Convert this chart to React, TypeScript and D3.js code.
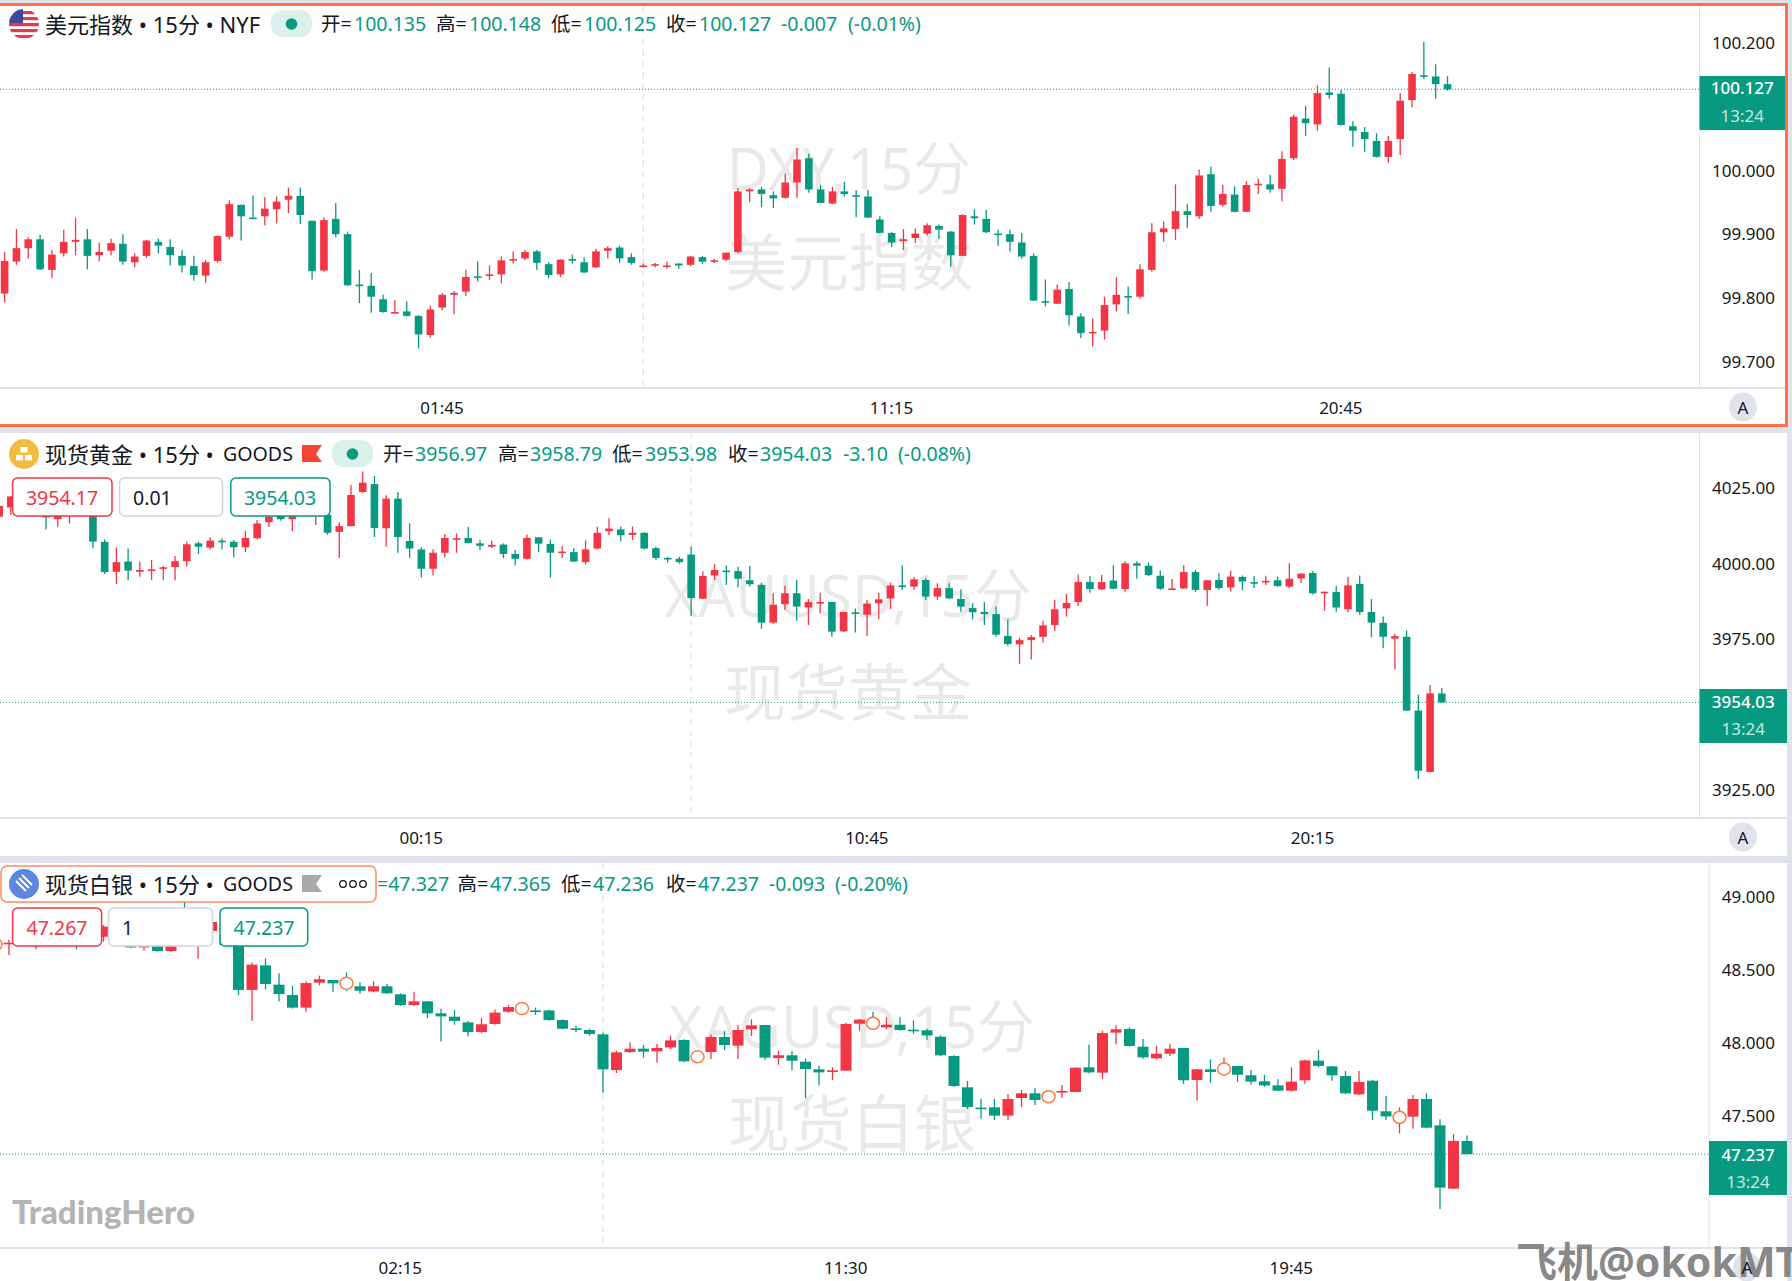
import React from "react";
import * as d3 from "d3";

type Row = number[]; // open, high, low, close

const dxyOhlc: Row[] = [
[99.807,99.872,99.793,99.858],[99.857,99.908,99.852,99.878],[99.878,99.895,99.862,99.892],[99.892,99.899,99.844,99.845],[99.844,99.875,99.831,99.868],
[99.870,99.907,99.865,99.888],[99.888,99.926,99.867,99.891],[99.892,99.908,99.845,99.866],[99.867,99.887,99.857,99.872],[99.874,99.893,99.867,99.886],
[99.885,99.900,99.852,99.857],[99.856,99.870,99.848,99.865],[99.866,99.891,99.863,99.890],[99.888,99.893,99.870,99.882],[99.880,99.892,99.851,99.867],
[99.866,99.875,99.840,99.851],[99.850,99.866,99.827,99.836],[99.835,99.859,99.824,99.856],[99.858,99.898,99.855,99.897],[99.896,99.953,99.892,99.947],
[99.946,99.946,99.890,99.928],[99.926,99.961,99.925,99.925],[99.928,99.958,99.914,99.940],[99.939,99.959,99.917,99.951],[99.954,99.973,99.933,99.960],
[99.960,99.973,99.916,99.930],[99.921,99.921,99.829,99.842],[99.843,99.926,99.841,99.922],[99.924,99.949,99.895,99.900],[99.900,99.904,99.819,99.820],
[99.821,99.844,99.792,99.819],[99.819,99.839,99.777,99.802],[99.798,99.805,99.777,99.778],[99.777,99.797,99.776,99.778],[99.779,99.795,99.771,99.772],
[99.772,99.773,99.721,99.743],[99.742,99.788,99.738,99.782],[99.785,99.808,99.781,99.805],[99.805,99.811,99.775,99.808],[99.810,99.844,99.803,99.833],
[99.834,99.857,99.826,99.832],[99.835,99.851,99.828,99.837],[99.837,99.865,99.823,99.859],[99.859,99.873,99.854,99.861],[99.862,99.875,99.859,99.872],
[99.873,99.875,99.844,99.855],[99.853,99.856,99.831,99.836],[99.837,99.861,99.833,99.860],[99.861,99.868,99.854,99.859],[99.856,99.864,99.839,99.840],
[99.848,99.877,99.847,99.873],[99.874,99.881,99.862,99.878],[99.879,99.882,99.855,99.862],[99.864,99.870,99.852,99.855],[99.849,99.854,99.848,99.851],
[99.852,99.855,99.848,99.853],[99.849,99.857,99.846,99.851],[99.854,99.854,99.846,99.851],[99.852,99.866,99.850,99.865],[99.864,99.866,99.853,99.857],
[99.857,99.861,99.855,99.859],[99.860,99.871,99.858,99.871],[99.872,99.972,99.870,99.967],[99.967,99.972,99.950,99.970],[99.970,99.974,99.942,99.963],
[99.961,99.967,99.941,99.956],[99.957,99.995,99.956,99.981],[99.981,100.035,99.957,100.017],[100.019,100.026,99.965,99.970],[99.970,99.977,99.949,99.949],
[99.948,99.974,99.947,99.967],[99.967,99.982,99.959,99.963],[99.961,99.969,99.927,99.959],[99.959,99.969,99.925,99.926],[99.923,99.928,99.901,99.902],
[99.902,99.903,99.880,99.887],[99.889,99.908,99.875,99.892],[99.894,99.909,99.886,99.901],[99.901,99.917,99.898,99.914],[99.913,99.915,99.893,99.907],
[99.904,99.905,99.849,99.867],[99.866,99.931,99.866,99.930],[99.928,99.939,99.915,99.925],[99.924,99.938,99.902,99.903],[99.901,99.907,99.882,99.899],
[99.900,99.907,99.873,99.888],[99.887,99.902,99.862,99.865],[99.866,99.870,99.795,99.796],[99.795,99.829,99.787,99.793],[99.791,99.821,99.791,99.813],
[99.814,99.825,99.757,99.773],[99.771,99.776,99.737,99.745],[99.746,99.768,99.724,99.747],[99.749,99.802,99.735,99.789],[99.790,99.832,99.779,99.805],
[99.803,99.818,99.775,99.802],[99.802,99.853,99.799,99.845],[99.844,99.917,99.841,99.903],[99.903,99.920,99.888,99.909],[99.908,99.978,99.891,99.936],
[99.936,99.947,99.910,99.930],[99.928,100.001,99.924,99.992],[99.994,100.006,99.935,99.944],[99.946,99.977,99.943,99.963],[99.962,99.975,99.934,99.935],
[99.935,99.983,99.935,99.977],[99.977,99.987,99.963,99.979],[99.978,99.993,99.965,99.970],[99.971,100.030,99.951,100.018],[100.019,100.087,100.016,100.084],
[100.081,100.101,100.054,100.074],[100.072,100.133,100.062,100.121],[100.122,100.161,100.112,100.118],[100.120,100.126,100.070,100.071],[100.069,100.077,100.037,100.062],
[100.060,100.068,100.029,100.049],[100.046,100.058,100.020,100.021],[100.021,100.054,100.012,100.046],[100.049,100.121,100.024,100.109],[100.110,100.154,100.099,100.151],
[100.149,100.201,100.143,100.147],[100.147,100.166,100.112,100.135],[100.135,100.148,100.125,100.127],
];

const xauOhlc: Row[] = [
[4015.4,4019.8,4013.5,4019.0],[4018.5,4022.3,4016.0,4022.1],[4020.4,4021.5,4016.0,4017.1],[4017.1,4020.4,4015.9,4019.3],[4018.2,4020.9,4011.2,4015.2],
[4014.6,4019.8,4012.1,4017.1],[4015.7,4019.3,4013.2,4017.6],[4018.2,4019.3,4015.9,4016.5],[4017.6,4019.3,4005.0,4007.2],[4007.1,4007.9,3996.5,3997.1],
[3997.2,4005.3,3993.2,4000.4],[4000.6,4004.9,3994.4,3997.6],[3997.2,4000.6,3995.6,3997.8],[3997.6,4001.1,3994.5,3998.0],[3998.2,3999.1,3994.5,3998.7],
[3998.8,4002.4,3994.4,4000.7],[4000.7,4007.1,3998.9,4006.3],[4006.6,4007.2,4003.1,4005.5],[4005.2,4008.6,4004.6,4007.5],[4007.5,4008.3,4004.6,4007.3],
[4007.1,4007.7,4002.0,4005.3],[4005.3,4010.7,4003.7,4008.4],[4008.3,4014.3,4007.9,4013.2],[4013.6,4017.6,4012.0,4015.4],[4016.0,4017.6,4014.1,4014.6],
[4014.6,4017.6,4010.7,4016.5],[4017.1,4018.2,4015.7,4016.0],[4015.7,4017.6,4012.7,4016.5],[4016.1,4017.6,4009.4,4010.1],[4010.4,4013.6,4001.8,4012.3],
[4012.3,4025.9,4012.3,4022.6],[4023.6,4030.4,4023.3,4026.7],[4026.2,4028.9,4008.7,4011.7],[4011.6,4022.5,4005.5,4021.4],[4021.4,4023.6,4003.5,4008.7],
[4007.4,4013.3,4001.8,4004.9],[4004.6,4005.3,3995.3,3998.2],[3998.2,4004.6,3996.0,4003.5],[4003.5,4009.7,4002.0,4008.4],[4007.9,4009.9,4003.5,4008.3],
[4008.4,4012.1,4006.6,4006.7],[4006.6,4007.6,4004.4,4005.8],[4005.5,4007.5,4005.1,4006.1],[4006.2,4006.6,4001.7,4003.1],[4003.1,4004.4,3999.3,4001.5],
[4001.5,4009.5,4001.3,4008.4],[4008.6,4008.6,4003.7,4006.5],[4006.4,4007.9,3995.3,4003.5],[4003.4,4005.7,4001.8,4003.9],[4003.7,4005.1,4000.4,4000.6],
[4000.4,4007.6,3999.6,4004.6],[4004.9,4012.1,4004.6,4010.1],[4010.6,4014.9,4009.4,4011.5],[4011.2,4012.1,4007.2,4009.3],[4009.4,4012.2,4007.7,4010.1],
[4010.1,4010.3,4004.6,4004.9],[4005.0,4005.6,4001.1,4001.8],[4001.8,4002.2,4000.3,4001.4],[4001.5,4002.2,3999.9,4000.4],[4002.9,4005.6,3982.6,3988.5],
[3988.3,3997.4,3988.2,3995.8],[3996.0,3999.8,3994.5,3997.8],[3997.6,3999.3,3992.8,3997.2],[3997.4,3998.9,3992.1,3994.9],[3994.4,3999.1,3992.3,3993.1],
[3992.9,3993.6,3978.4,3980.4],[3980.4,3990.1,3979.9,3986.3],[3986.5,3992.7,3984.6,3990.1],[3990.1,3994.5,3981.0,3985.7],[3985.4,3988.2,3979.6,3987.2],
[3986.9,3990.3,3983.5,3987.2],[3987.2,3987.3,3975.7,3977.4],[3977.5,3984.0,3977.3,3983.9],[3983.8,3985.1,3977.1,3983.4],[3983.0,3987.9,3976.0,3986.7],
[3986.8,3990.3,3981.5,3988.1],[3988.4,3993.6,3984.9,3992.7],[3992.7,3999.3,3991.2,3992.3],[3992.3,3995.5,3991.2,3994.7],[3994.5,3995.1,3987.9,3989.0],
[3989.0,3993.4,3987.9,3991.8],[3991.8,3993.4,3988.1,3988.4],[3988.2,3991.4,3984.0,3985.7],[3985.2,3986.8,3981.5,3983.8],[3983.9,3987.2,3979.6,3983.2],
[3983.2,3985.7,3975.7,3976.4],[3976.0,3981.5,3972.7,3973.3],[3973.2,3975.4,3966.7,3974.6],[3974.6,3976.3,3968.2,3975.6],[3975.7,3981.0,3973.8,3979.5],
[3979.6,3987.9,3977.6,3984.8],[3985.1,3989.9,3982.4,3986.9],[3987.2,3996.3,3985.9,3993.8],[3993.8,3995.8,3990.3,3991.5],[3991.4,3996.1,3991.2,3993.8],
[3994.3,3999.4,3991.4,3991.6],[3991.5,4000.7,3990.6,4000.0],[4000.0,4000.6,3995.0,3999.2],[3999.2,4000.3,3995.8,3996.1],[3995.9,3997.6,3991.2,3991.6],
[3991.2,3994.8,3991.2,3991.7],[3991.7,3999.4,3991.5,3997.1],[3997.1,3997.8,3990.5,3991.2],[3991.2,3994.5,3986.0,3994.4],[3994.5,3996.7,3991.3,3991.8],
[3992.0,3997.6,3990.7,3995.6],[3995.5,3996.0,3991.2,3994.0],[3993.8,3995.8,3991.8,3993.5],[3993.8,3995.9,3992.8,3994.2],[3994.4,3995.6,3992.2,3992.5],
[3992.3,4000.0,3991.8,3994.9],[3995.0,3996.7,3993.5,3996.6],[3996.8,3997.5,3989.7,3990.1],[3990.3,3990.7,3984.3,3990.6],[3990.5,3992.5,3984.0,3985.4],
[3984.8,3995.5,3983.7,3992.7],[3993.2,3996.0,3983.0,3983.9],[3983.9,3988.2,3975.5,3980.4],[3980.3,3982.4,3971.9,3975.7],[3975.1,3976.6,3964.9,3975.9],
[3975.7,3977.8,3951.3,3951.3],[3951.3,3956.5,3928.7,3931.4],[3931.0,3959.8,3930.8,3957.0],[3956.97,3958.79,3953.98,3954.03],
];

const xagOhlc: Row[] = [
[48.661,48.702,48.633,48.679],[48.674,48.702,48.599,48.683],[48.702,48.720,48.661,48.667],[48.706,48.736,48.638,48.661],[48.679,48.724,48.665,48.702],
[48.706,48.724,48.663,48.674],[48.713,48.733,48.638,48.661],[48.674,48.736,48.663,48.713],[48.724,48.804,48.690,48.793],[48.759,48.781,48.667,48.702],
[48.702,48.736,48.647,48.651],[48.651,48.713,48.629,48.679],[48.690,48.724,48.622,48.626],[48.626,48.713,48.622,48.679],[48.816,48.964,48.674,48.702],
[48.667,48.770,48.574,48.736],[48.763,48.838,48.736,48.825],[48.736,48.747,48.661,48.667],[48.702,48.804,48.325,48.360],[48.360,48.547,48.150,48.533],
[48.528,48.576,48.364,48.401],[48.396,48.474,48.282,48.332],[48.325,48.387,48.232,48.239],[48.239,48.419,48.211,48.407],[48.410,48.458,48.391,48.433],
[48.428,48.428,48.348,48.405],[48.410,48.480,48.355,48.401],[48.385,48.412,48.334,48.355],[48.350,48.419,48.344,48.385],[48.385,48.401,48.332,48.337],
[48.330,48.337,48.250,48.257],[48.257,48.348,48.250,48.282],[48.282,48.284,48.168,48.200],[48.200,48.232,48.008,48.179],[48.177,48.225,48.122,48.148],
[48.138,48.148,48.043,48.072],[48.072,48.170,48.063,48.125],[48.127,48.227,48.122,48.205],[48.211,48.257,48.205,48.243],[48.230,48.268,48.195,48.236],
[48.220,48.239,48.189,48.216],[48.220,48.225,48.150,48.154],[48.154,48.159,48.091,48.095],[48.097,48.113,48.072,48.088],[48.086,48.095,48.047,48.059],
[48.056,48.068,47.657,47.817],[47.812,47.945,47.792,47.933],[47.935,48.002,47.931,47.958],[47.958,47.983,47.897,47.938],[47.940,47.990,47.863,47.963],
[47.967,48.047,47.956,48.015],[48.018,48.022,47.865,47.872],[47.899,47.945,47.863,47.908],[47.935,48.056,47.888,48.038],[48.038,48.077,47.949,47.983],
[47.979,48.120,47.888,48.086],[48.091,48.159,48.045,48.118],[48.120,48.120,47.883,47.897],[47.894,47.945,47.849,47.913],[47.913,47.940,47.812,47.876],
[47.869,47.890,47.619,47.819],[47.817,47.844,47.707,47.796],[47.803,47.831,47.744,47.810],[47.808,48.136,47.806,48.127],[48.129,48.161,48.081,48.157],
[48.136,48.211,48.093,48.127],[48.104,48.173,48.091,48.122],[48.122,48.173,48.081,48.086],[48.088,48.152,48.061,48.079],[48.084,48.095,48.020,48.049],
[48.040,48.049,47.908,47.913],[47.908,47.913,47.696,47.703],[47.694,47.737,47.546,47.559],[47.555,47.616,47.479,47.548],[47.557,47.614,47.470,47.500],
[47.500,47.648,47.470,47.614],[47.621,47.676,47.559,47.653],[47.653,47.687,47.573,47.607],[47.625,47.664,47.589,47.635],[47.660,47.710,47.623,47.669],
[47.662,47.831,47.662,47.828],[47.831,47.986,47.790,47.796],[47.794,48.081,47.751,48.065],[48.068,48.118,47.988,48.091],[48.093,48.104,47.972,47.977],
[47.972,48.024,47.890,47.899],[47.892,47.977,47.883,47.924],[47.924,47.992,47.908,47.958],[47.963,47.963,47.717,47.742],[47.744,47.821,47.603,47.817],
[47.817,47.885,47.726,47.799],[47.815,47.897,47.778,47.824],[47.840,47.842,47.730,47.780],[47.776,47.812,47.712,47.733],[47.735,47.780,47.698,47.707],
[47.707,47.749,47.669,47.671],[47.671,47.831,47.664,47.733],[47.742,47.885,47.719,47.878],[47.876,47.949,47.833,47.840],[47.837,47.840,47.739,47.776],
[47.771,47.806,47.648,47.653],[47.646,47.806,47.641,47.730],[47.739,47.744,47.470,47.534],[47.530,47.635,47.470,47.495],[47.484,47.557,47.379,47.493],
[47.493,47.641,47.411,47.614],[47.614,47.653,47.413,47.418],[47.434,47.475,46.862,47.008],[47.001,47.375,46.998,47.327],[47.327,47.365,47.236,47.237],
];

const xagEventIdx = [0, 26, 39, 52, 65, 78, 91, 104];

const dxyPriceTicks = [100.2, 100.0, 99.9, 99.8, 99.7];
const xauPriceTicks = [4025, 4000, 3975, 3925];
const xagPriceTicks = [49, 48.5, 48, 47.5];

const dxyTimeTicks: [number, string][] = [[37, "01:45"], [75, "11:15"], [113, "20:45"]];
const xauTimeTicks: [number, string][] = [[36, "00:15"], [74, "10:45"], [112, "20:15"]];
const xagTimeTicks: [number, string][] = [[30, "02:15"], [63, "11:30"], [96, "19:45"]];

const UP = "#f23645";
const DOWN = "#089981";
const BAND = "#e0e3eb";
const ORANGE = "#ff7043";
const FONT = "'Noto Sans','Noto Sans CJK SC',sans-serif";

type PaneCfg = {
  rows: Row[];
  fmt: (v: number) => string;
  priceTicks: number[];
  timeTicks: [number, string][];
  xFirst: number;
  xLast: number;
  yA: [number, number];
  yB: [number, number];
  axisX: number;
  axisY: number;
  bodyW: number;
  dashIdx: number;
  last: number;
  tag: { x2: number; top: number; bottom: number; priceY: number; timeY: number };
  wm: { x: number; y1: number; y2: number; t1: string; t2: string };
  btn: { x: number; y: number };
  timeY: number;
  top: number;
  events?: number[];
};

function Pane({ c }: { c: PaneCfg }) {
  const x = d3.scaleLinear().domain([0, c.rows.length - 1]).range([c.xFirst, c.xLast]);
  const y = d3.scaleLinear().domain([c.yA[0], c.yB[0]]).range([c.yA[1], c.yB[1]]);
  const tagCx = (c.axisX + c.tag.x2) / 2;
  return (
    <g fontFamily={FONT}>
      <g fill="#000" fillOpacity={0.085} textAnchor="middle">
        <text x={c.wm.x} y={c.wm.y1} dominantBaseline="central" fontSize={58}>{c.wm.t1}</text>
        <text x={c.wm.x} y={c.wm.y2} dominantBaseline="central" fontSize={62}>{c.wm.t2}</text>
      </g>
      <line x1={x(c.dashIdx)} x2={x(c.dashIdx)} y1={c.top} y2={c.axisY} stroke="#d8dbe3" strokeWidth={1} strokeDasharray="6 5" />
      <line x1={0} x2={c.axisX} y1={y(c.last)} y2={y(c.last)} stroke={DOWN} strokeWidth={1} strokeDasharray="1 2" />
      {c.rows.map((r, i) => {
        const [o, h, l, cl] = r;
        const col = cl >= o ? UP : DOWN;
        const top = y(Math.max(o, cl));
        const bot = y(Math.min(o, cl));
        return (
          <g key={i}>
            <line x1={x(i)} x2={x(i)} y1={y(h)} y2={y(l)} stroke={col} strokeWidth={1.3} />
            <rect x={x(i) - c.bodyW / 2} width={c.bodyW} y={top} height={Math.max(bot - top, 1.6)} fill={col} />
          </g>
        );
      })}
      {(c.events || []).map((i) => {
        const [o, , , cl] = c.rows[i];
        return <ellipse key={i} cx={x(i)} cy={y((o + cl) / 2)} rx={6.5} ry={6} fill="#fff" stroke="#ff7a3d" strokeWidth={1.5} />;
      })}
      <line x1={c.axisX} x2={c.axisX} y1={c.top} y2={c.axisY} stroke={BAND} strokeWidth={1} />
      <line x1={0} x2={1787} y1={c.axisY} y2={c.axisY} stroke={BAND} strokeWidth={2} />
      {c.priceTicks.map((t) => (
        <text key={t} x={1775} y={y(t) - 0.2} dominantBaseline="central" textAnchor="end" fontSize={17} fill="#131722">{c.fmt(t)}</text>
      ))}
      {c.timeTicks.map(([i, s]) => (
        <text key={s} x={x(i) - 0.2} y={c.timeY} dominantBaseline="central" textAnchor="middle" fontSize={17} fill="#131722">{s}</text>
      ))}
      <rect x={c.axisX} width={c.tag.x2 - c.axisX} y={c.tag.top} height={c.tag.bottom - c.tag.top} fill={DOWN} />
      <text x={tagCx} y={c.tag.priceY - 1} dominantBaseline="central" textAnchor="middle" fontSize={17} fill="#fff" fontWeight={500}>{c.fmt(c.last)}</text>
      <text x={tagCx} y={c.tag.timeY - 1} dominantBaseline="central" textAnchor="middle" fontSize={17} fill="#fff" fillOpacity={0.78}>13:24</text>
      <ellipse cx={c.btn.x} cy={c.btn.y} rx={14} ry={14.5} fill={BAND} />
    </g>
  );
}

type Seg = [number, string, string?];
function HeaderLine({ y, segs, size = 19.5 }: { y: number; segs: Seg[]; size?: number }) {
  return (
    <g fontFamily={FONT} fontSize={size}>
      {segs.map(([x, s, fill], i) => (
        <text key={i} x={x} y={y} dominantBaseline="central" fill={fill || "#131722"}>{s}</text>
      ))}
    </g>
  );
}

function Pill({ x, y }: { x: number; y: number }) {
  return (
    <g>
      <rect x={x} y={y - 14} width={41} height={27} rx={12} fill="#d9f0eb" />
      <circle cx={x + 20.5} cy={y} r={5.8} fill={DOWN} />
    </g>
  );
}

function Flag({ y, fill }: { y: number; fill: string }) {
  return <path d={`M302 ${y - 9}H322L316 ${y}L322 ${y + 8}H302Z`} fill={fill} />;
}

function OrderBox({ x1, x2, y, stroke, text, color, tx, anchor }: { x1: number; x2: number; y: number; stroke: string; text: string; color: string; tx: number; anchor: string }) {
  return (
    <g fontFamily={FONT}>
      <rect x={x1} y={y} width={x2 - x1} height={38} rx={5} fill="#fff" stroke={stroke} strokeWidth={1.5} />
      <text x={tx} y={y + 19.5} dominantBaseline="central" textAnchor={anchor as any} fontSize={19.5} fill={color}>{text}</text>
    </g>
  );
}

const f3 = (v: number) => v.toFixed(3);
const f2 = (v: number) => v.toFixed(2);

const dxyPane: PaneCfg = {
  rows: dxyOhlc, fmt: f3, priceTicks: dxyPriceTicks, timeTicks: dxyTimeTicks,
  xFirst: 4.6, xLast: 1447.5, yA: [100, 170.33], yB: [99.7, 361.83], axisX: 1699.5, axisY: 388, bodyW: 7.6, dashIdx: 54, last: 100.127,
  tag: { x2: 1785, top: 76, bottom: 130, priceY: 88, timeY: 116 },
  wm: { x: 849, y1: 167, y2: 262, t1: "DXY,15分", t2: "美元指数" },
  btn: { x: 1743, y: 407 }, timeY: 407, top: 6,
};
const xauPane: PaneCfg = {
  rows: xauOhlc, fmt: f2, priceTicks: xauPriceTicks, timeTicks: xauTimeTicks,
  xFirst: -0.9, xLast: 1441.8, yA: [4000, 563.33], yB: [3925, 790.1], axisX: 1699.5, axisY: 818, bodyW: 7.6, dashIdx: 59, last: 3954.03,
  tag: { x2: 1787, top: 689, bottom: 743, priceY: 702, timeY: 729 },
  wm: { x: 848, y1: 594, y2: 692, t1: "XAUUSD,15分", t2: "现货黄金" },
  btn: { x: 1743, y: 837 }, timeY: 837, top: 433,
};
const xagPane: PaneCfg = {
  rows: xagOhlc, fmt: f3, priceTicks: xagPriceTicks, timeTicks: xagTimeTicks,
  xFirst: -4.5, xLast: 1467, yA: [47.5, 1115.67], yB: [49, 896.37], axisX: 1709, axisY: 1248, bodyW: 11, dashIdx: 45, last: 47.237,
  tag: { x2: 1787, top: 1141, bottom: 1195, priceY: 1155, timeY: 1182 },
  wm: { x: 852, y1: 1025, y2: 1123, t1: "XAGUSD,15分", t2: "现货白银" },
  btn: { x: 1747, y: 1267 }, timeY: 1267, top: 863, events: xagEventIdx,
};
const panes = [dxyPane, xauPane, xagPane];

export default function App() {
  return (
    <svg width={1792} height={1281} viewBox="0 0 1792 1281" style={{ position: "fixed", left: 0, top: 0, display: "block", background: "#fff" }}>
      <defs>
        <clipPath id="usClip"><circle cx={24} cy={24} r={15} /></clipPath>
      </defs>
      {/* window bands */}
      <rect x={0} y={0} width={1792} height={4} fill={BAND} />
      <rect x={0} y={426} width={1792} height={7} fill={BAND} />
      <rect x={0} y={856} width={1792} height={7} fill={BAND} />
      <rect x={1787} y={0} width={5} height={1281} fill={BAND} />

      {panes.map((p, i) => <Pane key={i} c={p} />)}

      {/* header 1 */}
      <g clipPath="url(#usClip)">
        <rect x={9} y={9} width={30} height={30} fill="#fff" />
        {[0, 1, 2, 3, 4].map((k) => <rect key={k} x={9} y={11 + k * 6} width={30} height={3.2} fill="#e8384f" />)}
        <rect x={9} y={9} width={14} height={14} fill="#3c4a9c" />
      </g>
      <HeaderLine y={23.5} size={22} segs={[[45, "美元指数 • 15分 • NYF"]]} />
      <Pill x={271} y={24} />
      <HeaderLine y={23.5} segs={[
        [321, "开="], [354, "100.135", DOWN], [436, "高="], [469, "100.148", DOWN], [551, "低="], [584, "100.125", DOWN],
        [666, "收="], [699, "100.127", DOWN], [781, "-0.007", DOWN], [848, "(-0.01%)", DOWN],
      ]} />

      {/* header 2 */}
      <circle cx={24} cy={454} r={15} fill="#f0bb40" />
      <rect x={20.5} y={447} width={7} height={5.5} fill="#fff" />
      <rect x={16} y={455} width={7} height={5.5} fill="#fff" />
      <rect x={25} y={455} width={7} height={5.5} fill="#fff" />
      <HeaderLine y={453.5} size={22} segs={[[45, "现货黄金 • 15分 •"]]} />
      <HeaderLine y={453.5} size={19.6} segs={[[223, "GOODS"]]} />
      <Flag y={454} fill="#f7452f" />
      <Pill x={332} y={454} />
      <HeaderLine y={453} segs={[
        [383, "开="], [415, "3956.97", DOWN], [498, "高="], [530, "3958.79", DOWN], [612, "低="], [645, "3953.98", DOWN],
        [728, "收="], [760, "3954.03", DOWN], [843, "-3.10", DOWN], [898, "(-0.08%)", DOWN],
      ]} />
      <OrderBox x1={12.6} x2={112} y={478} stroke={UP} text="3954.17" color={UP} tx={62} anchor="middle" />
      <OrderBox x1={119.5} x2={222.5} y={478} stroke="#d1d4dc" text="0.01" color="#131722" tx={133} anchor="start" />
      <OrderBox x1={230.8} x2={330} y={478} stroke={DOWN} text="3954.03" color={DOWN} tx={280} anchor="middle" />

      {/* header 3 */}
      <rect x={1} y={866} width={375} height={36} rx={6} fill="#fff" stroke="#ff8a5c" strokeWidth={1.5} />
      <circle cx={24} cy={884} r={15} fill="#5b87e0" />
      <g stroke="#fff" strokeWidth={2}>
        <line x1={16} y1={881} x2={26} y2={891} />
        <line x1={19} y1={878} x2={29} y2={888} />
        <line x1={22} y1={875} x2={32} y2={885} />
      </g>
      <HeaderLine y={883.5} size={22} segs={[[45, "现货白银 • 15分 •"]]} />
      <HeaderLine y={883.5} size={19.6} segs={[[223, "GOODS"]]} />
      <Flag y={884} fill="#a9a9a9" />
      <g fill="none" stroke="#131722" strokeWidth={1.3}>
        <circle cx={343} cy={884} r={3.3} /><circle cx={353} cy={884} r={3.3} /><circle cx={363} cy={884} r={3.3} />
      </g>
      <HeaderLine y={883} segs={[
        [377, "=47.327", DOWN], [457.5, "高="], [490, "47.365", DOWN], [561, "低="], [593, "47.236", DOWN],
        [666, "收="], [698, "47.237", DOWN], [769, "-0.093", DOWN], [835, "(-0.20%)", DOWN],
      ]} />
      <OrderBox x1={12.6} x2={101.6} y={908} stroke={UP} text="47.267" color={UP} tx={57} anchor="middle" />
      <OrderBox x1={108.5} x2={212.5} y={908} stroke="#d1d4dc" text="1" color="#131722" tx={122} anchor="start" />
      <OrderBox x1={220} x2={307.7} y={908} stroke={DOWN} text="47.237" color={DOWN} tx={264} anchor="middle" />

      {/* active pane outline */}
      <path d="M0 4.5H1786.5V425.5H0" fill="none" stroke={ORANGE} strokeWidth={3} />

      {/* logos */}
      <text x={12} y={1224} fontFamily="Lato,'Noto Sans',sans-serif" fontWeight={900} fontSize={33} fill="#b4b4b4">TradingHero</text>
      <text x={1516} y={1277} fontFamily={FONT} fontWeight={700} fontSize={41} fill="#7d7d7d" fillOpacity={0.92}>飞机@okokMT</text>
      {panes.map((p, i) => (
        <text key={i} x={p.btn.x} y={p.btn.y} dominantBaseline="central" textAnchor="middle" fontFamily={FONT} fontSize={17} fill="#131722">A</text>
      ))}
    </svg>
  );
}
